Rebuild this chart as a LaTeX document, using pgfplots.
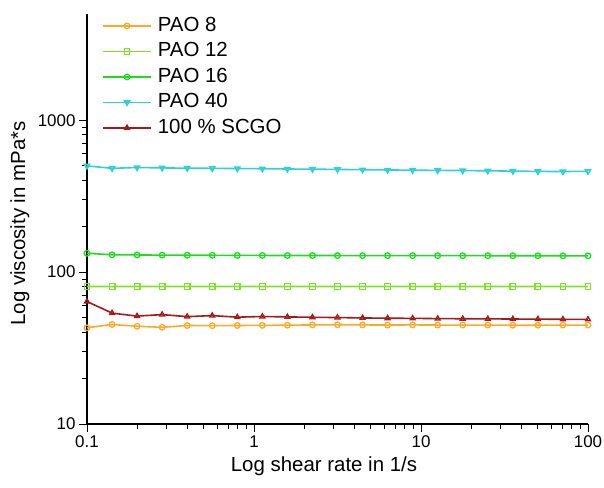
\documentclass[border=0pt]{standalone}
\usepackage{fontspec}
\setmainfont{Liberation Sans}
\usepackage{pgfplots}
\pgfplotsset{compat=1.18}
\definecolor{pao8}{RGB}{250,170,40}
\definecolor{pao12}{RGB}{128,226,40}
\definecolor{pao16}{RGB}{30,220,30}
\definecolor{pao40}{RGB}{45,210,215}
\definecolor{scgo}{RGB}{165,25,25}
\pgfplotsset{
    myline/.style={line width=1.6pt, mark size=2.8bp, mark options={solid, fill=white, line width=1.3pt}},
}
\begin{document}
\begin{tikzpicture}
\useasboundingbox (-87bp,-64bp) rectangle (517bp,424bp);
\begin{loglogaxis}[
    at={(0,0)}, anchor=south west,
    scale only axis,
    width=501bp, height=410bp,
    xmin=0.1, xmax=100,
    ymin=10, ymax=5000,
    axis x line=bottom, axis y line=left,
    axis line style={-, line width=1.1pt},
    tick align=outside,
    major tick length=8bp, minor tick length=5bp,
    every tick/.style={black, line width=0.9pt},
    xtick={0.1,1,10,100}, xticklabels={0.1,1,10,100},
    ytick={10,100,1000}, yticklabels={10,100,1000},
    tick label style={font=\fontsize{17}{20}\selectfont},
    xlabel={Log shear rate in 1/s},
    ylabel={Log viscosity in mPa*s},
    label style={font=\fontsize{20.5}{24}\selectfont},
    xlabel style={at={(axis description cs:0.473,-0.102)}, anchor=center},
    ylabel style={at={(axis description cs:-0.134,0.489)}, anchor=center, rotate=0},
    legend style={at={(axis description cs:0.03,1.0)}, anchor=north west,
        draw=none, fill=none, font=\fontsize{20.5}{24}\selectfont,
        row sep=2bp, inner sep=0pt,
        nodes={inner sep=2bp, text height=15bp, text depth=4.5bp},
        /tikz/every odd column/.append style={column sep=4bp}},
    legend cell align=left,
    legend image code/.code={\draw[line width=1.6pt, mark repeat=2,mark phase=2,#1] plot coordinates {(0bp,0bp) (24bp,0bp) (48bp,0bp)};},
    clip=false,
]
\addplot[myline, color=pao8, mark=o] coordinates {
(0.1,43.0)(0.1413,45.2)(0.1995,44.0)(0.2818,43.3)(0.3981,44.5)(0.5623,44.4)(0.7943,44.5)
(1.122,44.6)(1.585,44.7)(2.239,44.9)(3.162,45.0)(4.467,44.9)(6.310,44.8)(8.913,44.9)
(12.59,44.8)(17.78,44.8)(25.12,44.8)(35.48,44.7)(50.12,44.7)(70.79,44.8)(100,44.8)};
\addlegendentry{PAO 8}
\addplot[myline, color=pao12, mark=square] coordinates {
(0.1,80.4)(0.1413,80.3)(0.1995,80.4)(0.2818,80.4)(0.3981,80.4)(0.5623,80.4)(0.7943,80.4)
(1.122,80.4)(1.585,80.4)(2.239,80.4)(3.162,80.4)(4.467,80.4)(6.310,80.4)(8.913,80.4)
(12.59,80.4)(17.78,80.4)(25.12,80.4)(35.48,80.4)(50.12,80.4)(70.79,80.4)(100,80.4)};
\addlegendentry{PAO 12}
\addplot[myline, color=pao16, mark=o] coordinates {
(0.1,133)(0.1413,130)(0.1995,129.7)(0.2818,129.3)(0.3981,129.1)(0.5623,129.0)(0.7943,128.8)
(1.122,128.7)(1.585,128.6)(2.239,128.5)(3.162,128.5)(4.467,128.4)(6.310,128.4)(8.913,128.3)
(12.59,128.3)(17.78,128.2)(25.12,128.2)(35.48,128.1)(50.12,128.1)(70.79,128.0)(100,128.0)};
\addlegendentry{PAO 16}
\addplot[myline, color=pao40, mark=triangle, mark options={rotate=180}] coordinates {
(0.1,500)(0.1413,482)(0.1995,488)(0.2818,485)(0.3981,483)(0.5623,482)(0.7943,480)
(1.122,479)(1.585,477)(2.239,476)(3.162,474)(4.467,472)(6.310,470)(8.913,469)
(12.59,467)(17.78,466)(25.12,464)(35.48,462)(50.12,460)(70.79,459)(100,461)};
\addlegendentry{PAO 40}
\addplot[myline, color=scgo, mark=triangle] coordinates {
(0.1,64)(0.1413,53.7)(0.1995,51.3)(0.2818,52.5)(0.3981,50.9)(0.5623,51.7)(0.7943,50.5)
(1.122,51.0)(1.585,50.7)(2.239,50.4)(3.162,50.2)(4.467,49.9)(6.310,49.7)(8.913,49.6)
(12.59,49.4)(17.78,49.3)(25.12,49.2)(35.48,49.1)(50.12,49.0)(70.79,48.9)(100,48.8)};
\addlegendentry{100 \% SCGO}
\end{loglogaxis}
\end{tikzpicture}
\end{document}
